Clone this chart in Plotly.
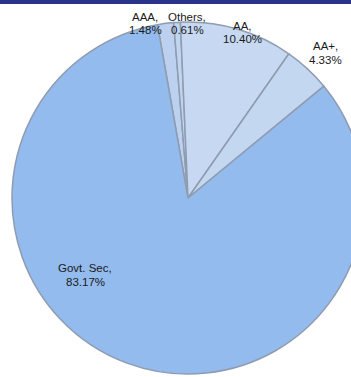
import plotly.graph_objects as go

# Data
categories = ["AAA", "Others", "AA", "AA+", "Govt. Sec"]
shares = [1.48, 0.61, 10.40, 4.33, 83.17]
slice_colors = ["#bcd1ef", "#c2d5f0", "#c6d8f2", "#c3d7f1", "#93bbee"]

W, H = 365, 377
cx, cy, R = 188, 198, 176  # pixel centre / radius (top-down y)

fig = go.Figure(go.Pie(
    labels=categories,
    values=shares,
    sort=False,
    direction="clockwise",
    rotation=-10,
    marker=dict(colors=slice_colors, line=dict(color="#8f9cb0", width=1.5)),
    textinfo="none",
    hoverinfo="label+percent",
    domain=dict(x=[(cx - R) / W, (cx + R) / W],
                y=[(H - cy - R) / H, (H - cy + R) / H]),
    showlegend=False,
))

# label positions in pixels (top-down): centre x, first-line centre y
label_pos = {
    "AAA": (145, 17),
    "Others": (187, 17),
    "AA": (242, 26),
    "AA+": (325, 46),
    "Govt. Sec": (85, 268),
}
line_gap = 13.5
font = dict(family="Liberation Sans, Arial, sans-serif", size=11.5, color="#1a1a1a")
for cat, val in zip(categories, shares):
    x, y = label_pos[cat]
    for i, txt in enumerate([f"{cat},", f"{val:.2f}%"]):
        fig.add_annotation(
            x=x / W, y=1 - (y + i * line_gap) / H, xref="paper", yref="paper",
            text=txt, showarrow=False, font=font,
            xanchor="center", yanchor="middle", align="center",
        )

# top navy band
fig.add_shape(type="rect", xref="paper", yref="paper",
              x0=0, x1=1, y0=1 - 4 / H, y1=1,
              fillcolor="#29348a", line=dict(width=0), layer="below")

fig.update_layout(
    width=W, height=H,
    margin=dict(l=0, r=0, t=0, b=0),
    paper_bgcolor="white", plot_bgcolor="white",
)

fig.write_html("out.html",
               config={"displayModeBar": False},
               post_script="document.body.style.margin='0';document.body.style.overflow='hidden';document.documentElement.style.overflow='hidden';")
